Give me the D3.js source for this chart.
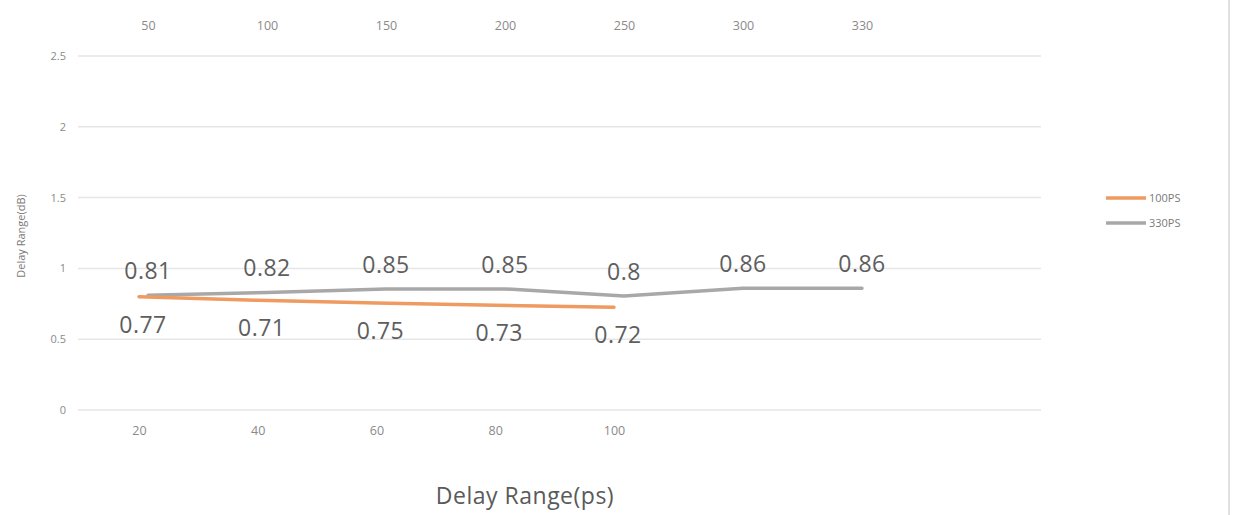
<!DOCTYPE html>
<html><head><meta charset="utf-8">
<script src="https://cdn.jsdelivr.net/npm/d3@7"></script>
<style>body{margin:0;background:#fff;}svg{display:block;font-family:"Open Sans",sans-serif;}</style>
</head><body>
<script>
const bottomCategories = ["20","40","60","80","100"];
const topCategories = ["50","100","150","200","250","300","330"];
const yTicks = [0,0.5,1,1.5,2,2.5];
const series100Line = [0.80,0.775,0.755,0.74,0.725];
const series100Labels = ["0.77","0.71","0.75","0.73","0.72"];
const series330Line = [0.81,0.83,0.855,0.855,0.805,0.86,0.86];
const series330Labels = ["0.81","0.82","0.85","0.85","0.8","0.86","0.86"];
const legendNames = ["100PS","330PS"];
const colors = ["#ef9a60","#a8a8a8"];

const W=1235,H=515;
const svg=d3.select("body").append("svg").attr("width",W).attr("height",H);
const y=d3.scaleLinear().domain([0,2.5]).range([410,56]);
const xb=d3.scalePoint().domain(bottomCategories).range([139,614]);
const xt=d3.scalePoint().domain(topCategories).range([148,862]);

// gridlines
svg.append("g").selectAll("line").data(yTicks).join("line")
  .attr("x1",78).attr("x2",1041).attr("y1",d=>y(d)).attr("y2",d=>y(d))
  .attr("stroke","#e6e6e6").attr("stroke-width",1.5);
// y axis labels
const ya=svg.append("g").attr("transform","translate(66,0)")
  .call(d3.axisLeft(y).tickValues(yTicks).tickFormat(d=>String(d)).tickSize(0).tickPadding(0));
ya.select(".domain").remove();
ya.selectAll("text").attr("fill","#8a8a8a").attr("font-size",11).attr("font-family","Open Sans");
// bottom axis
const xa=svg.append("g").attr("transform","translate(0,426)")
  .call(d3.axisBottom(xb).tickSize(0).tickPadding(0));
xa.select(".domain").remove();
xa.selectAll("text").attr("fill","#8a8a8a").attr("font-size",12.5).attr("font-family","Open Sans");
// top axis
const ta=svg.append("g").attr("transform","translate(0,30)")
  .call(d3.axisTop(xt).tickSize(0).tickPadding(0));
ta.select(".domain").remove();
ta.selectAll("text").attr("fill","#8a8a8a").attr("font-size",12.5).attr("font-family","Open Sans");

// lines
const line100=d3.line().x((d,i)=>xb(bottomCategories[i])).y(d=>y(d));
const line330=d3.line().x((d,i)=>xt(topCategories[i])).y(d=>y(d));
svg.append("path").attr("d",line330(series330Line)).attr("fill","none")
  .attr("stroke",colors[1]).attr("stroke-width",3.5).attr("stroke-linejoin","round").attr("stroke-linecap","round");
svg.append("path").attr("d",line100(series100Line)).attr("fill","none")
  .attr("stroke",colors[0]).attr("stroke-width",3.5).attr("stroke-linejoin","round").attr("stroke-linecap","round");

// data labels
svg.append("g").selectAll("text").data(series330Labels).join("text")
  .attr("x",(d,i)=>xt(topCategories[i])).attr("y",(d,i)=>y(series330Line[i])-16)
  .attr("text-anchor","middle").attr("font-size",23).attr("letter-spacing",0.5).attr("fill","#5e5e5e").text(d=>d);
svg.append("g").selectAll("text").data(series100Labels).join("text")
  .attr("x",(d,i)=>xb(bottomCategories[i])+4).attr("y",(d,i)=>y(series100Line[i])+36)
  .attr("text-anchor","middle").attr("font-size",23).attr("letter-spacing",0.5).attr("fill","#5e5e5e").text(d=>d);

// axis titles
svg.append("text").attr("x",525).attr("y",504).attr("text-anchor","middle")
  .attr("font-size",23).attr("letter-spacing",0.5).attr("fill","#5a5a5a").text("Delay Range(ps)");
svg.append("text").attr("transform","translate(25,236) rotate(-90)").attr("text-anchor","middle")
  .attr("font-size",11).attr("fill","#7a7a7a").text("Delay Range(dB)");

// legend
const lg=svg.append("g").attr("transform","translate(1106,198)");
legendNames.forEach((n,i)=>{
  const g=lg.append("g").attr("transform",`translate(0,${i*25})`);
  g.append("line").attr("x1",0).attr("x2",40).attr("stroke",colors[i]).attr("stroke-width",3.5);
  g.append("text").attr("x",43).attr("y",4).attr("font-size",11).attr("fill","#7a7a7a").text(n);
});
// right border
svg.append("line").attr("x1",1229).attr("x2",1229).attr("y1",0).attr("y2",H).attr("stroke","#e0e0e0").attr("stroke-width",2);
</script>
</body></html>
